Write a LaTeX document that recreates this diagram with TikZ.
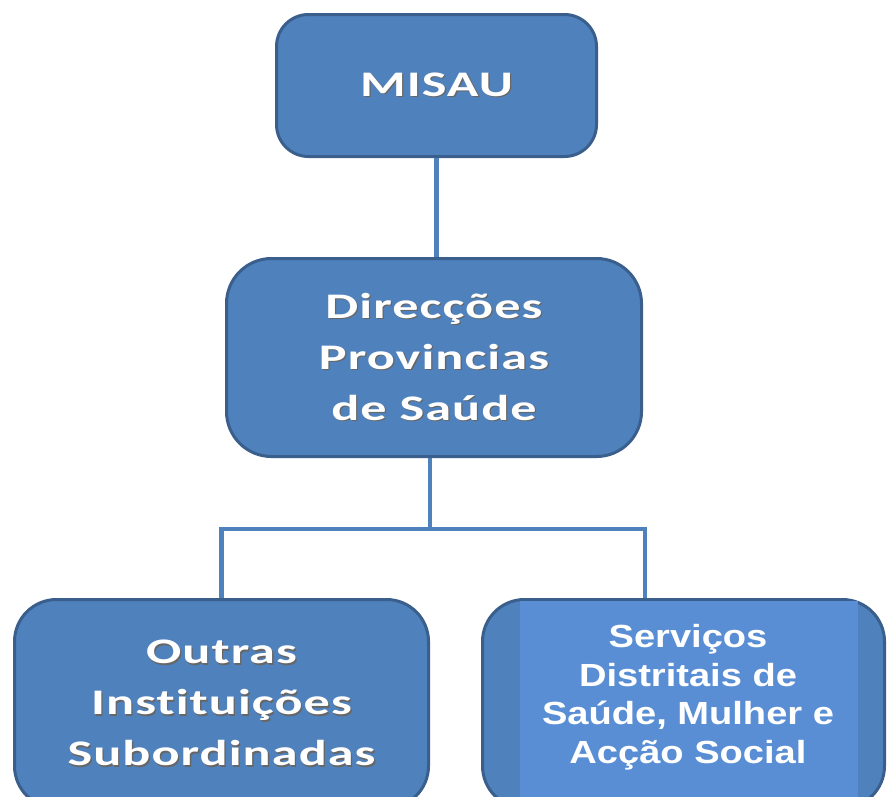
\documentclass[tikz,border=0pt]{standalone}
\usepackage{fontspec}
\newfontfamily\boxfont{Carlito}[FakeStretch=1.45,LetterSpace=3,Ligatures=CommonOff]
\newfontfamily\srvfont{Liberation Sans}[FakeStretch=1.19]
\definecolor{boxfill}{HTML}{4F81BD}
\definecolor{boxline}{HTML}{3A5F8C}
\definecolor{panelfill}{HTML}{5A8ED4}
\definecolor{connline}{HTML}{4F81BD}
\newcommand\shtxt[1]{\makebox[0pt][l]{\kern1.3pt\raisebox{-1.3pt}{\textcolor{black!60}{#1}}}#1}
\begin{document}
\begin{tikzpicture}[x=1pt,y=-1pt,
  orgbox/.style={draw=boxline, line width=3pt, fill=boxfill, inner sep=0pt,
    text=white, align=center},
  cfont/.style={font=\boxfont\bfseries\fontsize{36pt}{51pt}\selectfont},
  sfont/.style={font=\srvfont\bfseries\fontsize{32pt}{38.5pt}\selectfont},
  conn/.style={draw=connline, line width=4.5pt, line join=miter}]
\useasboundingbox (0,0) rectangle (888,796);
\fill[white] (0,0) rectangle (888,796);
\clip (0,0) rectangle (888,796);

\node[orgbox, cfont, rounded corners=32pt, minimum width=320pt, minimum height=142pt]
  (misau) at (436.5,85.5) {\shtxt{MISAU}};
\node[orgbox, cfont, rounded corners=45pt, minimum width=415pt, minimum height=198pt]
  (dir) at (434,357.5) {\shtxt{Direcções}\\\shtxt{Provincias}\\\shtxt{de Saúde}};
\node[orgbox, cfont, rounded corners=42pt, minimum width=414pt, minimum height=208.5pt]
  (outras) at (221.5,703.75) {\shtxt{Outras}\\\shtxt{Instituições}\\\shtxt{Subordinadas}};
\node[orgbox, rounded corners=42pt, minimum width=402pt, minimum height=208.5pt]
  (serv) at (683.5,703.75) {};
\fill[panelfill] (520,601) rectangle (858,808);
\node[sfont, text=white, align=center, inner sep=0pt] (servtxt) at (688,697)
  {Serviços\\Distritais de\\Saúde, Mulher e\\Acção Social};

\coordinate (busL) at (221.5,529);
\coordinate (busR) at (645,529);
\draw[conn] ([xshift=-4pt]dir.south) -- ([xshift=-4pt]dir.south |- busL);
\draw[conn] (misau.south) -- (misau.south |- dir.north);
\draw[conn] (outras.north) -- (busL) -- (busR) -- (busR |- serv.north);
\end{tikzpicture}
\end{document}
